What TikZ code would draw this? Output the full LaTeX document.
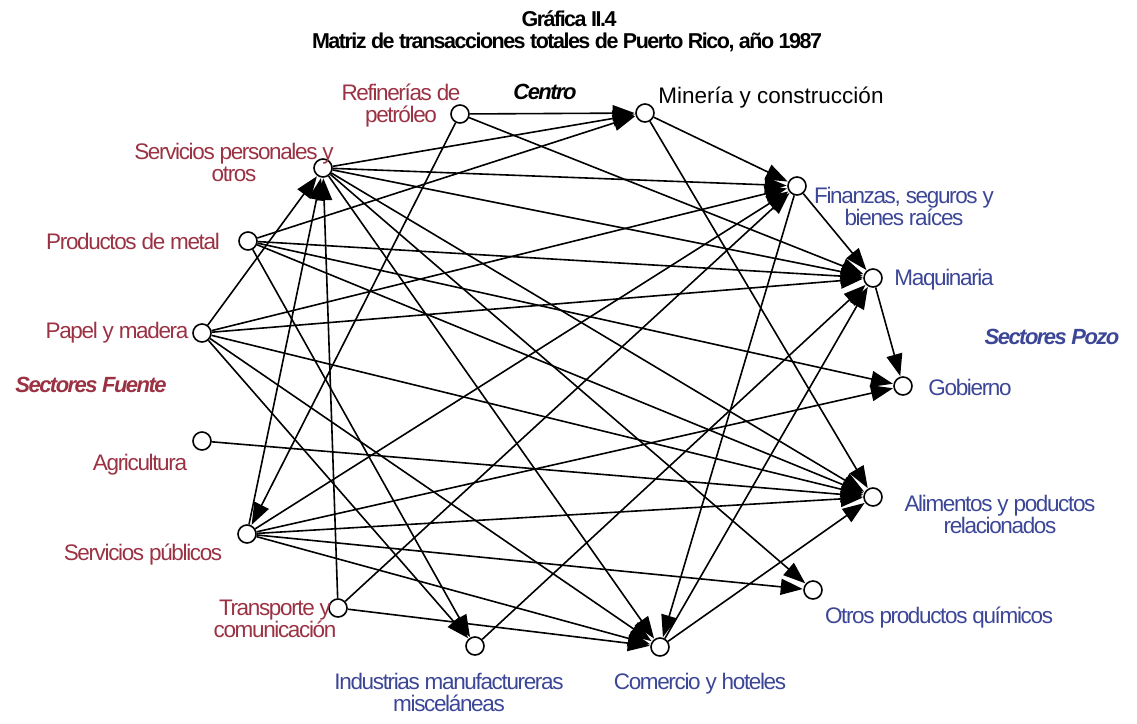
\documentclass[tikz,border=0pt]{standalone}
\usepackage{fontspec}
\setmainfont{Liberation Sans}
\usetikzlibrary{arrows.meta}
\definecolor{srcred}{RGB}{155,50,68}
\definecolor{sinkblue}{RGB}{60,70,150}
\begin{document}
\begin{tikzpicture}[x=1pt,y=-1pt,
  sector/.style={circle,draw,line width=1.6pt,minimum size=18pt,inner sep=0pt,fill=white},
  flow/.style={line width=1.6pt,-{Triangle[length=22pt,width=16pt]},shorten >=0.5pt},
  lbl/.style={inner sep=0pt,align=center,font=\fontsize{22.5}{22}\selectfont\addfontfeature{LetterSpace=-6}},
  srclabel/.style={lbl,text=srcred},
  sinklabel/.style={lbl,text=sinkblue},
  grouplabel/.style={inner sep=0pt,font=\fontsize{22}{22}\selectfont\bfseries\itshape\addfontfeature{LetterSpace=-7}},
  titlefont/.style={inner sep=0pt,font=\fontsize{21.5}{22}\selectfont\bfseries\addfontfeature{LetterSpace=-7}}
]
\useasboundingbox (0,0) rectangle (1137,723);

% title
\node[titlefont] (t1) at (569,19) {Gráfica II.4};
\node[titlefont] (t2) at (567,42) {Matriz de transacciones totales de Puerto Rico, año 1987};

% sectors
\node[sector] (ref)  at (460,114) {};
\node[sector] (min)  at (645,113) {};
\node[sector] (sp)   at (323,168) {};
\node[sector] (fin)  at (797,186) {};
\node[sector] (pm)   at (248,241) {};
\node[sector] (maq)  at (873,278) {};
\node[sector] (pym)  at (202,333) {};
\node[sector] (gob)  at (903,386) {};
\node[sector] (agr)  at (202,441) {};
\node[sector] (ali)  at (873,497) {};
\node[sector] (spub) at (247,534) {};
\node[sector] (opq)  at (813,590) {};
\node[sector] (tr)   at (338,608) {};
\node[sector] (ind)  at (475,646) {};
\node[sector] (com)  at (660,647) {};

% sector names
\node[srclabel]  (lref)  at (401,106) {Refinerías de\\petróleo};
\node[lbl,font=\fontsize{22.5}{22}\selectfont] (lmin) at (771,98) {Minería y construcción};
\node[srclabel]  (lsp)   at (234,162) {Servicios personales y\\otros};
\node[srclabel]  (lpm)   at (133,241) {Productos de metal};
\node[srclabel]  (lpym)  at (117,333) {Papel y madera};
\node[srclabel]  (lagr)  at (140,465) {Agricultura};
\node[srclabel]  (lspub) at (143,555) {Servicios públicos};
\node[srclabel]  (ltr)   at (275,619) {Transporte y\\comunicación};
\node[sinklabel] (lind)  at (449,692) {Industrias manufactureras\\misceláneas};
\node[sinklabel] (lcom)  at (700,684) {Comercio y hoteles};
\node[sinklabel] (lopq)  at (939,618) {Otros productos químicos};
\node[sinklabel] (lali)  at (1000,514) {Alimentos y poductos\\relacionados};
\node[sinklabel] (lgob)  at (970,387) {Gobierno};
\node[sinklabel] (lmaq)  at (944,280) {Maquinaria};
\node[sinklabel] (lfin)  at (904,206) {Finanzas, seguros y\\bienes raíces};

% group names
\node[grouplabel] (gcen) at (545,92)  {Centro};
\node[grouplabel,text=srcred]   (gfue) at (91,385)  {Sectores Fuente};
\node[grouplabel,text=sinkblue] (gpoz) at (1052,337) {Sectores Pozo};

% flows
\draw[flow] (ref) -- (min);
\draw[flow] (ref) -- (maq);
\draw[flow] (ref) -- (spub);
\draw[flow] (min) -- (fin);
\draw[flow] (min) -- (ali);
\draw[flow] (sp) -- (min);
\draw[flow] (sp) -- (fin);
\draw[flow] (sp) -- (maq);
\draw[flow] (sp) -- (ali);
\draw[flow] (sp) -- (opq);
\draw[flow] (sp) -- (com);
\draw[flow] (pm) -- (min);
\draw[flow] (pm) -- (maq);
\draw[flow] (pm) -- (ali);
\draw[flow] (pm) -- (ind);
\draw[flow] (pm) -- (gob);
\draw[flow] (pym) -- (sp);
\draw[flow] (pym) -- (fin);
\draw[flow] (pym) -- (maq);
\draw[flow] (pym) -- (ali);
\draw[flow] (pym) -- (com);
\draw[flow] (pym) -- (ind);
\draw[flow] (agr) -- (ali);
\draw[flow] (spub) -- (sp);
\draw[flow] (spub) -- (fin);
\draw[flow] (spub) -- (gob);
\draw[flow] (spub) -- (ali);
\draw[flow] (spub) -- (opq);
\draw[flow] (spub) -- (com);
\draw[flow] (tr) -- (sp);
\draw[flow] (tr) -- (fin);
\draw[flow] (tr) -- (com);
\draw[flow] (fin) -- (maq);
\draw[flow] (fin) -- (com);
\draw[flow] (ind) -- (maq);
\draw[flow] (com) -- (maq);
\draw[flow] (com) -- (ali);
\draw[flow] (maq) -- (gob);
\end{tikzpicture}
\end{document}
